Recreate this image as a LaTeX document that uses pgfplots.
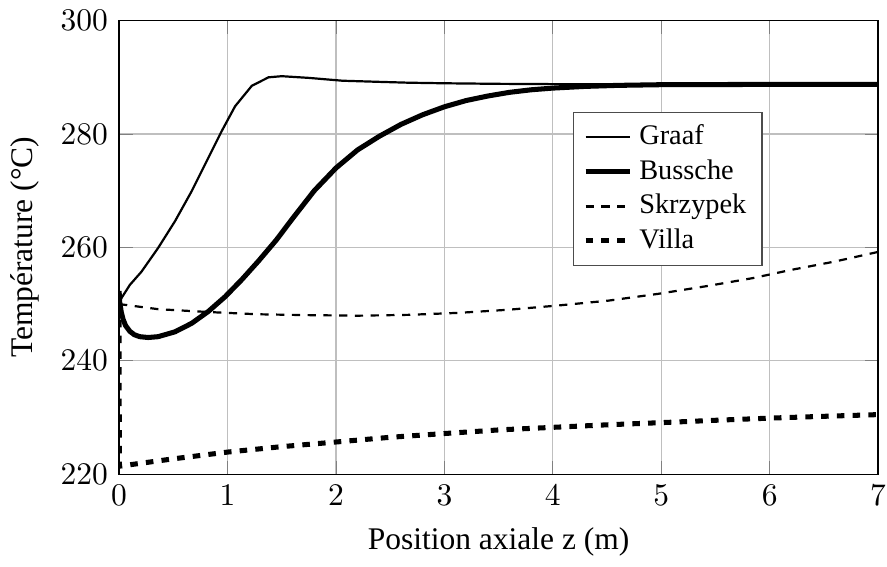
\documentclass[border={0pt 0pt -3pt 0pt}]{standalone}
\usepackage{fontspec}
\setmainfont{Liberation Serif}
\usepackage{pgfplots}
\pgfplotsset{compat=1.18}

\begin{document}
\begin{tikzpicture}
\begin{axis}[
  scale only axis,
  width=241pt, height=144pt,
  xmin=0, xmax=7, ymin=220, ymax=300,
  xtick={0,1,...,7},
  ytick={220,240,...,300},
  grid=major,
  xlabel={Position axiale z (m)},
  ylabel={Température (°C)},
  legend cell align=left,
  legend style={at={(0.848,0.799)}, anchor=north east, font=\small,
    draw=black!70, row sep=-0.8pt},
  legend image code/.code={\draw[mark repeat=2,mark phase=2]
    plot coordinates {(0cm,0cm) (0.25cm,0cm) (0.5cm,0cm)};},
]
% Graaf
\addplot[black, line width=0.7pt] coordinates {
  (0,250.4) (0.1,253.4) (0.206,255.7) (0.36,259.9) (0.515,264.6)
  (0.669,269.9) (0.823,275.8) (0.946,280.5) (1.07,284.9) (1.224,288.5)
  (1.378,290.0) (1.50,290.2) (1.75,289.9) (2.06,289.4) (2.4,289.2)
  (2.67,289.05) (3.0,288.95) (3.5,288.85) (4.0,288.8) (5.0,288.75)
  (6.0,288.75) (7.0,288.75)
};
\addlegendentry{Graaf}
% Bussche
\addplot[black, ultra thick] coordinates {
  (0,252.3) (0.006,250.3) (0.02,248.6) (0.037,247.3) (0.06,246.2)
  (0.099,245.2) (0.14,244.6) (0.19,244.25) (0.268,244.1) (0.36,244.25)
  (0.515,245.1) (0.669,246.6) (0.823,248.7) (0.978,251.3) (1.131,254.3)
  (1.286,257.6) (1.45,261.3) (1.6,265.1) (1.8,270.0) (2.0,274.0)
  (2.2,277.2) (2.4,279.6) (2.6,281.7) (2.8,283.4) (3.0,284.8)
  (3.2,285.9) (3.4,286.7) (3.6,287.35) (3.8,287.8) (4.0,288.1)
  (4.3,288.4) (4.6,288.58) (5.0,288.7) (6.0,288.75) (7.0,288.75)
};
\addlegendentry{Bussche}
% Skrzypek
\addplot[black, line width=0.7pt, dash pattern=on 2.6pt off 2.4pt] coordinates {
  (0,250.0) (0.36,249.1) (0.82,248.6) (1.28,248.2) (1.74,248.05)
  (2.2,247.95) (2.67,248.1) (3.13,248.45) (3.59,249.0) (4.05,249.75)
  (4.51,250.6) (4.97,251.8) (5.43,253.2) (5.85,254.6) (6.19,256.0)
  (6.6,257.5) (7.0,259.2)
};
\addlegendentry{Skrzypek}
% Villa
\addplot[black, ultra thick, dash pattern=on 2.4pt off 2.6pt] coordinates {
  (0,250.0) (0.002,221.4) (0.5,222.7) (1.005,223.9) (1.5,224.85)
  (2.02,225.7) (2.5,226.5) (3.03,227.2) (3.5,227.8) (4.05,228.3)
  (4.5,228.7) (5.02,229.1) (5.5,229.5) (6.03,229.9) (6.5,230.2)
  (7.0,230.5)
};
\addlegendentry{Villa}
\end{axis}
\end{tikzpicture}
\end{document}
